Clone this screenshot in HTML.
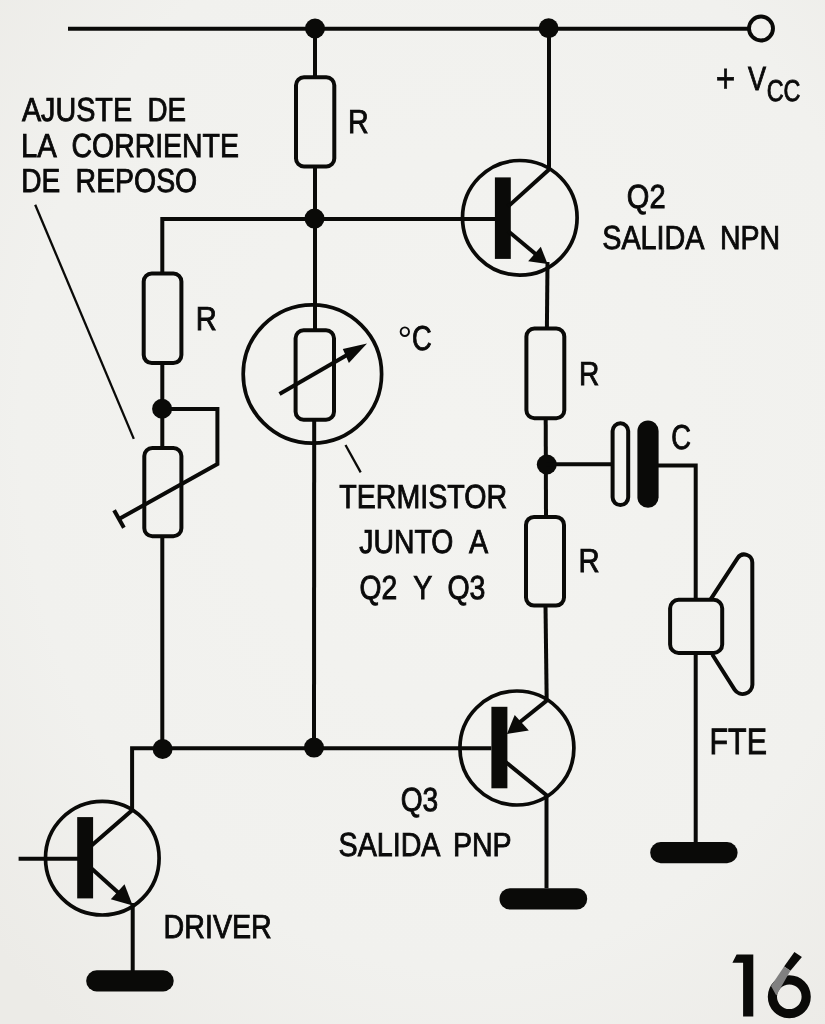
<!DOCTYPE html>
<html><head><meta charset="utf-8"><style>
html,body{margin:0;padding:0;background:#f1f1ee;}
svg{display:block;}
text{text-rendering:geometricPrecision;font-family:"Liberation Sans",sans-serif;fill:#0a0a08;stroke:#0a0a08;stroke-width:0.9px;}
</style></head><body>
<svg width="825" height="1024" viewBox="0 0 825 1024">
<defs><radialGradient id="bgg" cx="0.55" cy="0.42" r="0.75"><stop offset="0" stop-color="#f3f3f0"/><stop offset="0.7" stop-color="#f1f1ee"/><stop offset="1" stop-color="#ecebe7"/></radialGradient></defs>
<rect width="825" height="1024" fill="url(#bgg)"/>
<path d="M68,28.7 L749,28.7" fill="none" stroke="#0a0a08" stroke-width="4" stroke-linecap="butt" stroke-linejoin="miter"/>
<circle cx="761" cy="28.5" r="12" fill="none" stroke="#0a0a08" stroke-width="3.9"/>
<circle cx="315" cy="28.5" r="10" fill="#0a0a08"/>
<circle cx="548.6" cy="28.3" r="10" fill="#0a0a08"/>
<path d="M315,28 L315,77.3" fill="none" stroke="#0a0a08" stroke-width="4" stroke-linecap="butt" stroke-linejoin="miter"/>
<rect x="296" y="77.3" width="38.3" height="89.2" rx="8" fill="none" stroke="#0a0a08" stroke-width="4"/>
<path d="M315,166.5 L315,330.2" fill="none" stroke="#0a0a08" stroke-width="4" stroke-linecap="butt" stroke-linejoin="miter"/>
<path d="M314.2,419.8 L314,748" fill="none" stroke="#0a0a08" stroke-width="4" stroke-linecap="butt" stroke-linejoin="miter"/>
<circle cx="314.5" cy="218.6" r="10" fill="#0a0a08"/>
<path d="M162.3,219 L495,219" fill="none" stroke="#0a0a08" stroke-width="4" stroke-linecap="butt" stroke-linejoin="miter"/>
<path d="M162.3,217 L162.3,273.5" fill="none" stroke="#0a0a08" stroke-width="4" stroke-linecap="butt" stroke-linejoin="miter"/>
<rect x="143.7" y="273.5" width="37.7" height="89.6" rx="8" fill="none" stroke="#0a0a08" stroke-width="4"/>
<path d="M162.3,363.1 L162.3,448" fill="none" stroke="#0a0a08" stroke-width="4" stroke-linecap="butt" stroke-linejoin="miter"/>
<circle cx="162.1" cy="408.8" r="10" fill="#0a0a08"/>
<rect x="144.3" y="448" width="37.1" height="88.3" rx="8" fill="none" stroke="#0a0a08" stroke-width="4"/>
<path d="M162.3,536.3 L162.3,748.5" fill="none" stroke="#0a0a08" stroke-width="4" stroke-linecap="butt" stroke-linejoin="miter"/>
<path d="M162,408.9 L217.4,408.9 L217.4,464 L119,519" fill="none" stroke="#0a0a08" stroke-width="4" stroke-linecap="butt" stroke-linejoin="miter"/>
<path d="M114.1,510.3 L123.9,527.7" fill="none" stroke="#0a0a08" stroke-width="4" stroke-linecap="butt" stroke-linejoin="miter"/>
<path d="M35.2,204.7 L133.8,438.9" fill="none" stroke="#0a0a08" stroke-width="2.3" stroke-linecap="butt" stroke-linejoin="miter"/>
<circle cx="312.4" cy="374" r="69.2" fill="none" stroke="#0a0a08" stroke-width="3.7"/>
<rect x="295.6" y="330.2" width="38.4" height="89.6" rx="8" fill="none" stroke="#0a0a08" stroke-width="4"/>
<path d="M279.5,394 L347,355" fill="none" stroke="#0a0a08" stroke-width="4" stroke-linecap="butt" stroke-linejoin="miter"/>
<polygon points="367,343.5 342.8,349 348.9,363.1" fill="#0a0a08"/>
<path d="M345.5,445 L360.7,472.4" fill="none" stroke="#0a0a08" stroke-width="2.3" stroke-linecap="butt" stroke-linejoin="miter"/>
<circle cx="519.8" cy="217.8" r="57.3" fill="none" stroke="#0a0a08" stroke-width="3.7"/>
<rect x="494.9" y="177.4" width="15.9" height="81.5" fill="#0a0a08"/>
<path d="M549,28 L549,169.6 L508,206.6" fill="none" stroke="#0a0a08" stroke-width="4" stroke-linecap="butt" stroke-linejoin="miter"/>
<path d="M508,231 L538,256" fill="none" stroke="#0a0a08" stroke-width="4" stroke-linecap="butt" stroke-linejoin="miter"/>
<polygon points="547.6,264.1 528.2,261.2 540.8,246.7" fill="#0a0a08"/>
<path d="M547.5,262 L546.9,328.5" fill="none" stroke="#0a0a08" stroke-width="4" stroke-linecap="butt" stroke-linejoin="miter"/>
<rect x="526.4" y="328.5" width="37.9" height="89.7" rx="8" fill="none" stroke="#0a0a08" stroke-width="4"/>
<path d="M545.7,418 L546,516.9" fill="none" stroke="#0a0a08" stroke-width="4" stroke-linecap="butt" stroke-linejoin="miter"/>
<circle cx="546.8" cy="464.5" r="10" fill="#0a0a08"/>
<path d="M546,464.3 L612.6,464.3" fill="none" stroke="#0a0a08" stroke-width="4" stroke-linecap="butt" stroke-linejoin="miter"/>
<rect x="612.6" y="423.3" width="15.6" height="81.8" rx="7.8" fill="none" stroke="#0a0a08" stroke-width="4"/>
<rect x="637.4" y="420.5" width="21.2" height="87.3" rx="10.6" fill="#0a0a08"/>
<path d="M658,465.4 L695.7,465.4 L695.7,599.8" fill="none" stroke="#0a0a08" stroke-width="4" stroke-linecap="butt" stroke-linejoin="miter"/>
<rect x="526" y="516.9" width="38" height="88.7" rx="8" fill="none" stroke="#0a0a08" stroke-width="4"/>
<path d="M545.5,605.6 L546.7,702" fill="none" stroke="#0a0a08" stroke-width="4" stroke-linecap="butt" stroke-linejoin="miter"/>
<circle cx="516.9" cy="748" r="57" fill="none" stroke="#0a0a08" stroke-width="3.7"/>
<rect x="491.4" y="706.8" width="16" height="81.5" fill="#0a0a08"/>
<path d="M162,748.2 L491.4,748.2" fill="none" stroke="#0a0a08" stroke-width="4" stroke-linecap="butt" stroke-linejoin="miter"/>
<circle cx="314" cy="747.6" r="10" fill="#0a0a08"/>
<circle cx="162.6" cy="749" r="10" fill="#0a0a08"/>
<path d="M546.7,700.6 L520,722" fill="none" stroke="#0a0a08" stroke-width="4" stroke-linecap="butt" stroke-linejoin="miter"/>
<polygon points="506.9,734 514.7,715 528.8,730.5" fill="#0a0a08"/>
<path d="M505,761.5 L546.5,795.1 L546.5,888.2" fill="none" stroke="#0a0a08" stroke-width="4" stroke-linecap="butt" stroke-linejoin="miter"/>
<rect x="499.5" y="888.2" width="87.7" height="21.3" rx="10.6" fill="#0a0a08"/>
<rect x="670.1" y="599.8" width="52.1" height="53.1" rx="8.5" fill="none" stroke="#0a0a08" stroke-width="4"/>
<path d="M710.6,599.4 L737.6,558.1 A8,8 0 0 1 752.3,562.5 L752.4,684.6 A9.7,9.7 0 0 1 734.6,689.7 L712.3,654.5" fill="none" stroke="#0a0a08" stroke-width="4" stroke-linejoin="round"/>
<path d="M695.7,652.9 L695.7,842.1" fill="none" stroke="#0a0a08" stroke-width="4" stroke-linecap="butt" stroke-linejoin="miter"/>
<rect x="650.2" y="842.1" width="87.4" height="21.1" rx="10.5" fill="#0a0a08"/>
<path d="M162.8,748.3 L132.1,748.3 L132.1,810.3 L91,846" fill="none" stroke="#0a0a08" stroke-width="4" stroke-linecap="butt" stroke-linejoin="miter"/>
<circle cx="102.3" cy="858.2" r="56.8" fill="none" stroke="#0a0a08" stroke-width="3.7"/>
<rect x="77.2" y="817.1" width="15.9" height="81.3" fill="#0a0a08"/>
<path d="M18.6,858.8 L78,858.8" fill="none" stroke="#0a0a08" stroke-width="4" stroke-linecap="butt" stroke-linejoin="miter"/>
<path d="M91,868 L122,896" fill="none" stroke="#0a0a08" stroke-width="4" stroke-linecap="butt" stroke-linejoin="miter"/>
<polygon points="132.7,905.5 110.8,899.2 124.5,884.2" fill="#0a0a08"/>
<path d="M132.7,903 L132.7,971" fill="none" stroke="#0a0a08" stroke-width="4" stroke-linecap="butt" stroke-linejoin="miter"/>
<rect x="86.2" y="970.3" width="87.5" height="21.1" rx="10.5" fill="#0a0a08"/>
<g style="filter:grayscale(1)">
<text transform="translate(21.89,121.35) scale(0.8641,1)" font-size="33.28">AJUSTE</text>
<text transform="translate(147.57,121.35) scale(0.8343,1)" font-size="33.28">DE</text>
<text transform="translate(21.05,156.95) scale(0.8791,1)" font-size="33.28">LA</text>
<text transform="translate(71.53,156.95) scale(0.8542,1)" font-size="33.28">CORRIENTE</text>
<text transform="translate(21.15,191.95) scale(0.8438,1)" font-size="33.28">DE</text>
<text transform="translate(75.62,191.95) scale(0.8543,1)" font-size="33.28">REPOSO</text>
<text transform="translate(348.10,133.45) scale(0.8598,1)" font-size="33.28">R</text>
<text transform="translate(748.04,90.45) scale(0.8092,1)" font-size="33.43">V</text>
<text transform="translate(766.68,100.75) scale(0.7733,1)" font-size="30.23">CC</text>
<text transform="translate(626.86,207.95) scale(0.8726,1)" font-size="33.28">Q2</text>
<text transform="translate(602.23,249.45) scale(0.8641,1)" font-size="33.28">SALIDA</text>
<text transform="translate(719.91,249.45) scale(0.8560,1)" font-size="33.28">NPN</text>
<text transform="translate(195.86,329.55) scale(0.8750,1)" font-size="33.28">R</text>
<text transform="translate(411.99,349.90) scale(0.7888,1)" font-size="34.59">C</text>
<text transform="translate(578.94,385.25) scale(0.8447,1)" font-size="33.28">R</text>
<text transform="translate(671.19,449.15) scale(0.7888,1)" font-size="34.59">C</text>
<text transform="translate(339.32,507.95) scale(0.8596,1)" font-size="33.28">TERMISTOR</text>
<text transform="translate(359.30,553.45) scale(0.8527,1)" font-size="33.28">JUNTO</text>
<text transform="translate(468.89,553.45) scale(0.8623,1)" font-size="33.28">A</text>
<text transform="translate(359.59,599.25) scale(0.8508,1)" font-size="33.28">Q2</text>
<text transform="translate(413.22,599.25) scale(0.8598,1)" font-size="33.28">Y</text>
<text transform="translate(447.38,599.25) scale(0.8587,1)" font-size="33.28">Q3</text>
<text transform="translate(578.55,572.25) scale(0.8801,1)" font-size="33.28">R</text>
<text transform="translate(709.56,753.85) scale(0.8263,1)" font-size="36.77">FTE</text>
<text transform="translate(400.70,810.85) scale(0.8466,1)" font-size="33.28">Q3</text>
<text transform="translate(338.53,856.25) scale(0.8616,1)" font-size="33.28">SALIDA</text>
<text transform="translate(452.91,856.25) scale(0.8582,1)" font-size="33.28">PNP</text>
<text transform="translate(163.60,937.75) scale(0.8602,1)" font-size="33.28">DRIVER</text>
<text style="stroke-width:0.6px" transform="translate(715.79,92.12) scale(0.9655,1.1515)" font-size="34.74">+</text>
<text style="stroke-width:0" transform="translate(397.49,352.51) scale(1.0589,1.0976)" font-size="34.74">°</text>
</g>

<polygon points="736.6,954.4 753.3,954.4 753.3,1016.4 743.1,1016.4 743.1,962.7 732.4,962.7" fill="#0a0a08"/>
<circle cx="789.3" cy="996.7" r="16.9" fill="none" stroke="#0a0a08" stroke-width="9.2"/>
<polygon points="794.4,951.9 801.9,957.1 790.4,970.7 784.1,966.6" fill="#0a0a08"/>
<polygon points="784.1,966.6 790.4,970.7 776.3,995.6 771,986" fill="#808080"/>

</svg>
</body></html>
